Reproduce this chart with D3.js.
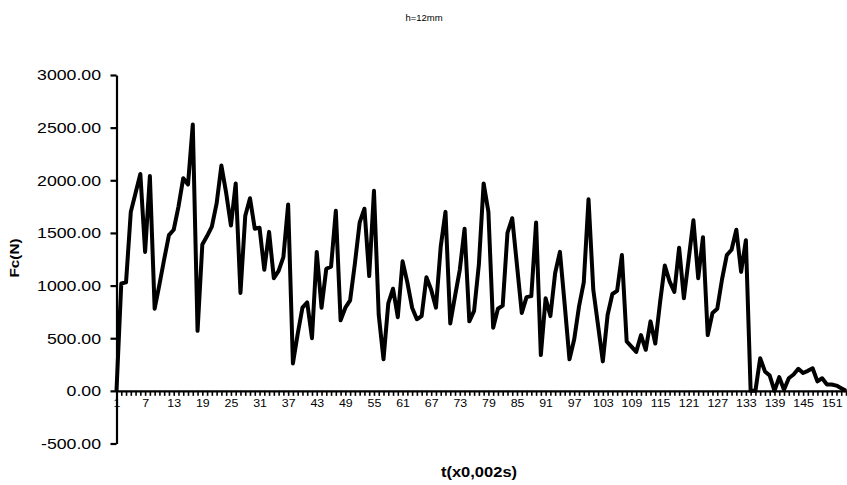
<!DOCTYPE html>
<html>
<head>
<meta charset="utf-8">
<script src="https://cdn.jsdelivr.net/npm/d3@7"></script>
<style>
  body { margin: 0; background: #fff; }
  svg text { font-family: "Liberation Sans", Arial, sans-serif; fill: #000; }
</style>
</head>
<body>
<svg id="chart" width="847" height="485"></svg>
<script>
// Cutting force Fc over time samples (step = 0.002 s), tool height h = 12 mm
const chartTitle = "h=12mm";
const yTitle = "Fc(N)";
const xTitle = "t(x0,002s)";

const force = [
  0, 1020, 1030, 1700, 1880, 2060, 1320, 2040, 780, 1010,
  1250, 1480, 1530, 1750, 2020, 1960, 2530, 570, 1390, 1470,
  1560, 1780, 2140, 1880, 1570, 1970, 930, 1660, 1830, 1540,
  1550, 1150, 1510, 1070, 1140, 1270, 1770, 260, 540, 790,
  840, 500, 1320, 790, 1160, 1180, 1710, 670, 790, 860,
  1210, 1600, 1730, 1090, 1900, 720, 300, 830, 970, 700,
  1230, 1030, 790, 680, 710, 1080, 960, 790, 1370, 1700,
  640, 900, 1150, 1540, 660, 760, 1200, 1970, 1700, 600,
  780, 810, 1500, 1640, 1190, 740, 890, 900, 1600, 340,
  880, 710, 1120, 1320, 820, 300, 490, 800, 1030, 1820,
  960, 620, 280, 720, 920, 950, 1290, 470, 420, 370,
  530, 390, 660, 450, 840, 1190, 1040, 940, 1360, 880,
  1250, 1620, 1070, 1460, 530, 740, 780, 1060, 1290, 1340,
  1530, 1130, 1430, 0, 0, 310, 185, 145, 0, 130,
  10, 120, 155, 210, 170, 190, 215, 90, 120, 60,
  60, 50, 25, 0
];
const samples = d3.range(1, force.length + 1);
const yTickValues = [-500, 0, 500, 1000, 1500, 2000, 2500, 3000];
const xLabelEvery = 6;

// the chart's lettering is set slightly wide
const stretch = 1.18;

const svg = d3.select("#chart");

const x = d3.scalePoint().domain(samples).range([116.5, 846]);
const y = d3.scaleLinear().domain([-500, 3000]).range([443.5, 75]);

// title
svg.append("text")
  .attr("x", 424).attr("y", 21)
  .attr("text-anchor", "middle")
  .style("font-size", "9.5px")
  .text(chartTitle);

// y axis
const yAxis = svg.append("g")
  .attr("transform", "translate(116.5,0)")
  .call(d3.axisLeft(y).tickValues(yTickValues).tickFormat(d => d.toFixed(2))
        .tickSize(6).tickSizeOuter(0));
yAxis.select(".domain").attr("stroke", "#000").attr("stroke-width", 2.2);
yAxis.selectAll(".tick line").attr("stroke", "#000").attr("stroke-width", 2.2);
yAxis.selectAll(".tick text")
  .style("font-size", "15px")
  .attr("x", -15.5 / stretch)
  .attr("transform", `scale(${stretch},1)`);

// x axis across the zero line, one tick per sample, a label every 6th
const xAxis = svg.append("g")
  .attr("transform", `translate(0,${y(0)})`)
  .call(d3.axisBottom(x).tickValues(samples)
        .tickFormat(d => (d - 1) % xLabelEvery === 0 ? d : "")
        .tickSize(5).tickSizeOuter(0).tickPadding(4));
xAxis.select(".domain").attr("stroke", "#000").attr("stroke-width", 2.2)
  .attr("d", `M${x(1)},0.5H${x(samples.length) + 1.5}`);
xAxis.selectAll(".tick line").attr("stroke", "#000").attr("stroke-width", 1.6);
xAxis.selectAll(".tick text")
  .style("font-size", "10.5px")
  .attr("transform", `scale(${stretch},1)`);

// axis titles
svg.append("text")
  .attr("transform", `translate(19,258) rotate(-90) scale(${stretch},1)`)
  .attr("text-anchor", "middle")
  .style("font-size", "13px").style("font-weight", "bold")
  .text(yTitle);
svg.append("text")
  .attr("transform", `translate(479,477) scale(${stretch},1)`)
  .attr("text-anchor", "middle")
  .style("font-size", "14px").style("font-weight", "bold")
  .text(xTitle);

// force series
const line = d3.line()
  .x((d, i) => x(samples[i]))
  .y(d => y(d));
svg.append("path")
  .datum(force)
  .attr("fill", "none")
  .attr("stroke", "#000")
  .attr("stroke-width", 4)
  .attr("stroke-linejoin", "round")
  .attr("stroke-linecap", "butt")
  .attr("d", line);
</script>
</body>
</html>
